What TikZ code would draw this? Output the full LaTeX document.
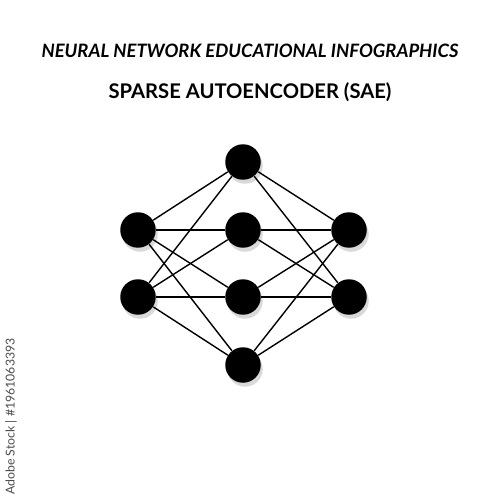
\documentclass[tikz,border=0pt]{standalone}
\usepackage{fontspec}
\setmainfont{Lato}
\usetikzlibrary{shadows}
\begin{document}
\begin{tikzpicture}[x=0.02cm,y=-0.02cm,
  neuron/.style={circle,fill=black,minimum size=0.71cm,inner sep=0pt,
    drop shadow={shadow xshift=0.04cm,shadow yshift=-0.08cm,opacity=0.15,fill=black}},
  link/.style={line width=0.8pt,black},
  titlea/.style={font=\fontsize{10.5}{13}\selectfont\bfseries\itshape},
  titleb/.style={font=\fontsize{11.5}{13}\selectfont\bfseries},
  wmtext/.style={font=\fontsize{7}{8}\selectfont,text=black!70}]
\useasboundingbox (0,0) rectangle (500,500);
\fill[white] (0,0) rectangle (500,500);
\node[titlea] (t1) at (250,51) {NEURAL NETWORK EDUCATIONAL INFOGRAPHICS};
\node[titleb] (t2) at (250,92) {SPARSE AUTOENCODER (SAE)};
\node[wmtext,rotate=90,anchor=east,inner sep=0pt] (wm) at (11,338) {Adobe Stock | \#1961063393};
\node[neuron] (T) at (243,162) {};
\node[neuron] (L1) at (138,230) {};
\node[neuron] (L2) at (138,297) {};
\node[neuron] (M1) at (243,230) {};
\node[neuron] (M2) at (243,297) {};
\node[neuron] (B) at (243,365) {};
\node[neuron] (R1) at (349,230) {};
\node[neuron] (R2) at (349,297) {};
\begin{scope}[link]
\foreach \s in {L1,L2,R1,R2}{
  \draw (\s) -- (T);
  \draw (\s) -- (M1);
  \draw (\s) -- (M2);
  \draw (\s) -- (B);
}
\end{scope}
\end{tikzpicture}
\end{document}
